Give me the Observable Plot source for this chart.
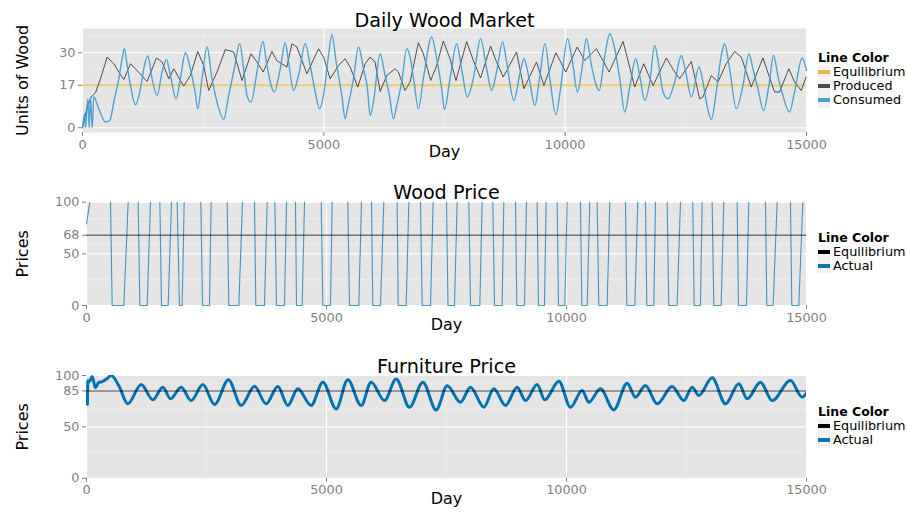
<!DOCTYPE html>
<html><head><meta charset="utf-8">
<script src="https://cdn.jsdelivr.net/npm/d3@7"></script>
<script src="https://cdn.jsdelivr.net/npm/@observablehq/plot@0.6"></script>
<style>
body{margin:0;background:#fff;font-family:"DejaVu Sans",sans-serif;}
#root{position:relative;width:907px;height:512px;overflow:hidden;}
.panel{position:absolute;left:0;}
.legend{position:absolute;left:818px;font-size:12.8px;color:#000;}
.lt{font-weight:bold;font-size:12.5px;height:14px;line-height:14px;white-space:nowrap;}
.row{display:flex;align-items:center;height:14.3px;line-height:14.3px;white-space:nowrap;}
.key{width:12px;height:14.3px;background:#f2f2f2;position:relative;margin-right:3px;flex:none;}
.key span{position:absolute;left:0;right:0;top:5px;height:4px;}
</style></head>
<body><div id="root"></div>
<script>
// ---------- Data ----------
const dayTicks = [0, 5000, 10000, 15000];
const dayMinor = [2500, 7500, 12500];

// Panel 1: Daily Wood Market
const woodTicks = [0, 17, 30];
const woodMinor = [8.5, 23.5, 36.5];
const woodEquilibrium = 17;
const producedDay = [0,97,180,269,373,511,649,773,856,994,1131,1338,1532,1649,1787,1890,2097,2235,2387,2511,2614,2787,2959,3132,3304,3490,3615,3745,3924,4028,4131,4235,4338,4442,4649,4890,4993,5131,5304,5442,5545,5704,5856,5959,6062,6166,6304,6476,6545,6683,6787,6959,7062,7214,7338,7476,7614,7738,7959,8097,8248,8455,8579,8717,8993,9145,9407,9559,9807,10014,10248,10407,10648,10911,11200,11441,11628,11821,12097,12269,12372,12614,12786,12855,13028,13166,13338,13510,13648,13855,14097,14338,14441,14635,14752,14890,14993];
const producedUnits = [0,8.3,12.3,14,19.6,28.3,25.6,21.6,19.3,25.6,22.9,18.5,27.9,26.3,19.6,23.6,16.7,20.9,30.5,24.9,14.9,22.3,31.3,30.3,18.9,29.6,26.3,22.3,30.5,26.8,25.6,24.3,33.6,32.3,21.6,31.6,28.3,19.6,24.9,27.6,24.3,16.3,25.6,28.3,26.3,14.5,20.9,23.6,22.3,14.9,18.3,34,29.6,18.9,24.9,34.7,27.6,18.9,34.5,26.9,19.9,32.7,26.3,20.3,30.3,15.6,26.3,16.9,30,22.3,32.3,26.9,31.6,22.3,34.5,16.3,25.6,16.9,27.9,22.3,19.6,26.5,11.6,12.3,20.9,18.3,25.6,30.5,28.3,16.3,27.9,14.3,14.3,23.6,18.3,14.9,20.3];
const consumedDay = [0,42,62,111,138,166,200,235,338,476,566,649,752,821,869,925,994,1097,1200,1283,1352,1442,1545,1649,1738,1821,1938,2028,2132,2235,2338,2387,2476,2580,2683,2787,2925,3028,3145,3256,3338,3408,3490,3615,3739,3821,3973,4097,4200,4269,4373,4476,4614,4717,4821,4911,4993,5097,5166,5255,5373,5442,5490,5614,5718,5821,5904,5959,6028,6166,6269,6359,6442,6511,6614,6718,6787,6869,6959,7062,7235,7338,7442,7500,7614,7752,7855,7973,8097,8248,8373,8476,8579,8704,8786,8938,9062,9145,9255,9373,9476,9580,9683,9807,9904,10048,10152,10255,10338,10442,10545,10704,10821,10924,11028,11131,11235,11338,11462,11545,11648,11752,11855,11924,12028,12131,12269,12407,12497,12614,12773,12855,12938,13028,13131,13235,13304,13407,13545,13683,13807,13890,13993,14110,14221,14317,14407,14510,14648,14752,14910,15000];
const consumedUnits = [0,5.6,0,11.6,0,12.3,0,12.3,7.6,2.3,2.9,10.3,19.6,27.6,31.6,24.9,16.9,9.2,15.6,24.9,28.7,19.6,12.9,22.3,27.3,20.9,11.6,19.6,30,23.6,13.6,7.6,19.6,32.3,19.6,10.3,3.3,12.9,23.6,33.6,23.6,12.9,10.3,22.3,34.5,24.9,14.3,23.6,34,26.3,14.9,20.9,33.6,24.9,14.3,7.6,12.9,28.9,37.2,26.3,12.9,3.6,7.6,19.6,32.3,23.6,15.6,4.9,10.3,29.6,20.9,12.9,3.6,8.9,18.3,31.6,28.3,18.3,7.6,19.6,36.3,27.6,15.6,7.3,19.6,33.6,23.6,12.3,19.6,35.6,23.6,14.9,22.3,34.3,26.3,10.9,21.6,27.6,19.6,8.9,20.9,33.6,19.6,5.2,15.6,35.6,26.3,14.3,22.3,35.6,24.9,14.9,28.9,37.6,31.6,19.6,6.3,16.3,27.6,20.9,10.9,18.3,32.9,26.9,14.3,11.6,18.3,28.9,22.3,12.3,24.3,18.3,8.9,3.3,14.3,28.9,33.6,23.6,7.6,16.9,29.6,23.6,15.6,6.9,16.9,28.9,20.9,12.9,6.3,14.3,27.9,23];

// Panel 2: Wood Price
const priceTicksWood = [0, 50, 68, 100];
const priceMinorWood = [25, 59, 84];
const woodPriceEquilibrium = 68;
const woodPriceStartDay = [0, 69];
const woodPriceStart = [79, 100];
const woodFallFrom100 = [500,1076,1528,1889,2382,2930,3500,3924,4354,4889,5444,5937,6472,6958,7500,7965,8465,8937,9388,9805,10291,10638,11229,11645,12097,12631,13034,13555,14145,14666];
const woodHitZero = [535,1111,1562,1937,2417,2965,3528,3958,4375,4924,5479,5965,6493,6993,7531,8000,8500,8965,9416,9833,10319,10673,11256,11673,12131,12659,13069,13583,14173,14694];
const woodLeaveZero = [778,1264,1701,1993,2562,3174,3708,4125,4493,5083,5673,6125,6660,7167,7666,8194,8659,9125,9541,9965,10430,10847,11423,11819,12305,12791,13222,13749,14305,14840];
const woodReach100 = [868,1333,1771,2035,2597,3250,3764,4167,4542,5118,5729,6194,6715,7222,7722,8243,8694,9166,9576,10013,10486,10902,11486,11854,12374,12826,13277,13798,14388,14923];

// Panel 3: Furniture Price
const priceTicksFurn = [0, 50, 85, 100];
const priceMinorFurn = [25, 67.5, 92.5];
const furniturePriceEquilibrium = 85;
const furnitureDay = [20,28,60,118,187,250,330,431,514,674,861,1139,1382,1590,1750,1972,2180,2424,2667,2958,3222,3500,3743,3986,4194,4403,4680,4924,5201,5444,5722,5930,6208,6451,6729,7007,7284,7514,7792,8000,8278,8486,8729,8972,9146,9389,9548,9840,10083,10326,10465,10708,10986,11264,11437,11645,11888,12201,12444,12618,12757,13034,13312,13590,13763,14041,14284,14666,14909,15000];
const furniturePrice = [72,95,94,99,88,93,94,97,100,90,72.4,91.2,76.3,88.6,77.3,88.6,75.6,91.2,71.7,95.8,70.8,89.6,72.4,89.2,70.8,87,70.8,93.5,67.5,95.8,70.8,93.5,75.6,96.7,69.1,93.5,66.5,90,74,88.6,69.1,87,70.8,88.6,75.6,91.2,76.3,94.5,69.1,85.4,74,87,66.5,92.5,78.9,90.2,72.4,89.2,75.6,88.6,80.5,97.7,72.4,91.9,77.3,93.5,75.6,95.1,78.9,82.8];

// ---------- Tables ----------
const produced = producedDay.map((d, i) => ({day: d, units: producedUnits[i]}));
const consumed = consumedDay.map((d, i) => ({day: d, units: consumedUnits[i]}));
const woodPrice = woodPriceStartDay.map((d, i) => ({day: d, price: woodPriceStart[i]}));
woodFallFrom100.forEach((d, i) => {
  woodPrice.push({day: d, price: NaN});
  woodPrice.push({day: d, price: 100});
  woodPrice.push({day: woodHitZero[i], price: 0});
  woodPrice.push({day: woodLeaveZero[i], price: 0});
  woodPrice.push({day: woodReach100[i], price: 100});
});
const furniture = furnitureDay.map((d, i) => ({day: d, price: furniturePrice[i]}));

const FONT = "DejaVu Sans";
const GREY = "#7F7F7F";

function base(o) {
  const marks = [
    Plot.frame({fill: "#E5E5E5", stroke: null}),
    Plot.ruleX(dayMinor, {stroke: "#F2F2F2", strokeWidth: 0.6}),
    Plot.ruleY(o.yMinor, {stroke: "#F2F2F2", strokeWidth: 0.6}),
    Plot.ruleX(dayTicks, {stroke: "#FFFFFF", strokeWidth: 1.1}),
    Plot.ruleY(o.yTicks, {stroke: "#FFFFFF", strokeWidth: 1.1}),
    ...o.series,
    Plot.axisX({ticks: dayTicks, tickSize: 4, tickPadding: 3, stroke: GREY, fill: GREY, label: null, tickFormat: d => String(d), fontSize: 12.8}),
    Plot.axisY({ticks: o.yTicks, tickSize: 4, tickPadding: 3, stroke: GREY, fill: GREY, label: null, tickFormat: d => String(d), fontSize: 12.8}),
    Plot.text([o.title], {text: d => d, frameAnchor: "top", textAnchor: "middle", lineAnchor: "bottom", dy: o.titleDy, fontSize: 19.2, fill: "#000"}),
    Plot.text(["Day"], {text: d => d, frameAnchor: "bottom", textAnchor: "middle", dy: o.dayDy, fontSize: 16, fill: "#000"}),
    Plot.text([o.ylabel], {text: d => d, frameAnchor: "left", textAnchor: "middle", dx: o.ylabDx, rotate: -90, fontSize: 16, fill: "#000"})
  ];
  return Plot.plot({
    width: 907, height: o.height,
    marginLeft: o.left, marginRight: 101, marginTop: o.top, marginBottom: o.bottom,
    style: {fontFamily: FONT, fontSize: "12.8px", background: "transparent", overflow: "visible"},
    x: {domain: [0, 15000]},
    y: {domain: o.yDomain},
    marks
  });
}

const p1 = base({
  height: 165, left: 82, top: 28, bottom: 33,
  yDomain: [-1.9, 39.7], yTicks: woodTicks, yMinor: woodMinor,
  title: "Daily Wood Market", titleDy: -2, dayDy: 24, ylabel: "Units of Wood", ylabDx: -60,
  series: [
    Plot.ruleY([woodEquilibrium], {stroke: "#E69F00", strokeOpacity: 0.5, strokeWidth: 2.2}),
    Plot.line(produced, {x: "day", y: "units", stroke: "#333333", strokeOpacity: 0.85, strokeWidth: 1}),
    Plot.line(consumed, {x: "day", y: "units", stroke: "#3E9BD0", strokeOpacity: 0.9, strokeWidth: 1.4, curve: "monotone-x"})
  ]
});
const p2 = base({
  height: 170, left: 86, top: 31.7, bottom: 35,
  yDomain: [0, 100], yTicks: priceTicksWood, yMinor: priceMinorWood,
  title: "Wood Price", titleDy: -3.4, dayDy: 24.5, ylabel: "Prices", ylabDx: -64,
  series: [
    Plot.line(woodPrice, {x: "day", y: "price", stroke: "#0072B2", strokeOpacity: 0.7, strokeWidth: 1.1}),
    Plot.ruleY([woodPriceEquilibrium], {stroke: "#000", strokeOpacity: 0.55, strokeWidth: 1.5})
  ]
});
const p3 = base({
  height: 167, left: 86, top: 30, bottom: 34.3,
  yDomain: [0, 100], yTicks: priceTicksFurn, yMinor: priceMinorFurn,
  title: "Furniture Price", titleDy: -2.7, dayDy: 25.3, ylabel: "Prices", ylabDx: -64,
  series: [
    Plot.line(furniture, {x: "day", y: "price", stroke: "#0072B2", strokeWidth: 3, curve: "monotone-x", clip: true}),
    Plot.ruleY([furniturePriceEquilibrium], {stroke: "#000", strokeOpacity: 0.5, strokeWidth: 1.5})
  ]
});

const root = document.getElementById("root");
[[p1, 0], [p2, 170], [p3, 345]].forEach(([svg, top]) => {
  svg.classList.add("panel");
  svg.style.position = "absolute";
  svg.style.top = top + "px";
  svg.style.left = "0px";
  root.appendChild(svg);
});

function legend(top, items) {
  const div = document.createElement("div");
  div.className = "legend";
  div.style.top = top + "px";
  const t = document.createElement("div");
  t.className = "lt";
  t.textContent = "Line Color";
  div.appendChild(t);
  items.forEach(([label, color]) => {
    const r = document.createElement("div");
    r.className = "row";
    const k = document.createElement("div");
    k.className = "key";
    const s = document.createElement("span");
    s.style.background = color;
    k.appendChild(s);
    r.appendChild(k);
    r.appendChild(document.createTextNode(label));
    div.appendChild(r);
  });
  root.appendChild(div);
}
legend(50.7, [["Equilibrium", "#E9B44C"], ["Produced", "#4D4D4D"], ["Consumed", "#4A9FD0"]]);
legend(230.7, [["Equilibrium", "#000000"], ["Actual", "#0A74B3"]]);
legend(404.7, [["Equilibrium", "#000000"], ["Actual", "#0A74B3"]]);
</script>
</body></html>
